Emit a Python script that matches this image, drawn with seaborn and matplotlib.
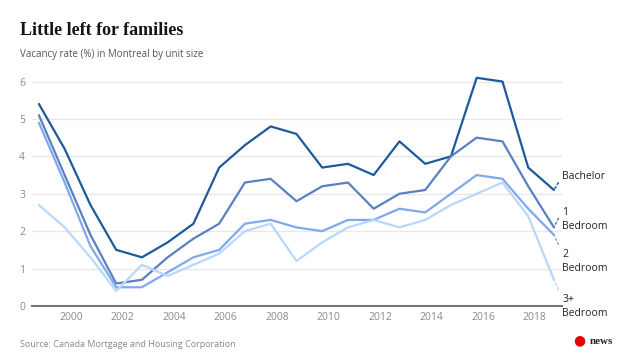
import pandas as pd
import matplotlib
matplotlib.use("Agg")
import matplotlib.pyplot as plt
import matplotlib.dates as mdates
import seaborn as sns

# Montreal vacancy rates (%) by unit size, October survey 1998-2018
years = list(range(1998, 2019))
bachelor = [5.4, 4.2, 2.7, 1.5, 1.3, 1.7, 2.2, 3.7, 4.3, 4.8, 4.6,
            3.7, 3.8, 3.5, 4.4, 3.8, 4.0, 6.1, 6.0, 3.7, 3.1]
one_bed = [5.1, 3.5, 1.9, 0.6, 0.7, 1.3, 1.8, 2.2, 3.3, 3.4, 2.8,
           3.2, 3.3, 2.6, 3.0, 3.1, 4.0, 4.5, 4.4, 3.2, 2.1]
two_bed = [4.9, 3.3, 1.6, 0.5, 0.5, 0.9, 1.3, 1.5, 2.2, 2.3, 2.1,
           2.0, 2.3, 2.3, 2.6, 2.5, 3.0, 3.5, 3.4, 2.6, 1.9]
three_bed = [2.7, 2.1, 1.3, 0.4, 1.1, 0.8, 1.1, 1.4, 2.0, 2.2, 1.2,
             1.7, 2.1, 2.3, 2.1, 2.3, 2.7, 3.0, 3.3, 2.4, 0.7]

units = ["Bachelor", "1\nBedroom", "2\nBedroom", "3+\nBedroom"]
colors = ["#1d5a9c", "#5a80c3", "#80a8ef", "#b9d7fb"]
tick_years = list(range(2000, 2019, 2))
y_ticks = [0, 1, 2, 3, 4, 5, 6]

# long table for seaborn
dates = pd.to_datetime([f"{y}-10-01" for y in years])
frames = []
for name, vals in zip(units, [bachelor, one_bed, two_bed, three_bed]):
    frames.append(pd.DataFrame({"date": dates, "rate": vals, "unit": name}))
df = pd.concat(frames, ignore_index=True)

sns.set_style("white")
plt.rcParams["font.family"] = ["Open Sans", "DejaVu Sans"]

fig = plt.figure(figsize=(6.4, 3.57), dpi=100)
ax = fig.add_axes([0.05, 0.143, 0.828, 0.66])

sns.lineplot(data=df, x="date", y="rate", hue="unit", palette=colors,
             linewidth=1.6, legend=False, ax=ax)

ax.set_ylim(0, 6.3)
ax.set_xlim(pd.Timestamp("1998-06-25"), pd.Timestamp("2019-01-22"))
ax.set_yticks(y_ticks)
ax.set_xticks(pd.to_datetime([f"{y}-01-01" for y in tick_years]))
ax.xaxis.set_major_formatter(mdates.DateFormatter("%Y"))
ax.tick_params(axis="both", length=0, labelsize=7.5, labelcolor="#8a8a8a")
ax.tick_params(axis="y", pad=5)
ax.tick_params(axis="x", pad=4)
ax.set_xlabel("")
ax.set_ylabel("")
ax.grid(axis="y", color="#e8e8e8", linewidth=1)
ax.set_axisbelow(True)
for s in ["top", "right", "left"]:
    ax.spines[s].set_visible(False)
ax.spines["bottom"].set_color("#777777")
ax.spines["bottom"].set_linewidth(1.5)

# end labels with dotted leaders
offsets = [(6, 10, 0.5), (6, 15, 0.85), (6, -10, 0.85), (6, -10, 0.85)]
for name, vals, col, (dx, dy, rp) in zip(units, [bachelor, one_bed, two_bed, three_bed],
                                        colors, offsets):
    ax.annotate(name, xy=(dates[-1], vals[-1]), xytext=(dx, dy),
                textcoords="offset points", ha="left",
                va="center" if "\n" not in name else "top",
                fontsize=7.5, color="#222222", linespacing=1.45,
                annotation_clip=False,
                arrowprops=dict(arrowstyle="-", linestyle=(0, (1.2, 1.8)), color=col,
                                lw=1.1, shrinkA=1, shrinkB=0, relpos=(0, rp)))

fig.text(0.031, 0.915, "Little left for families", fontsize=13, weight="bold",
         family=["Liberation Serif", "DejaVu Serif"], color="#151515", va="center")
fig.text(0.031, 0.846, "Vacancy rate (%) in Montreal by unit size", fontsize=7,
         color="#555555", va="center")
fig.text(0.031, 0.034, "Source: Canada Mortgage and Housing Corporation", fontsize=6.5,
         color="#888888", va="center")
fig.text(0.895, 0.044, "\u25CF", fontsize=10, color="#e60505", va="center")
fig.text(0.922, 0.044, "news", fontsize=8, weight="bold",
         family=["Liberation Serif", "DejaVu Serif"], color="#222222", va="center")

fig.savefig("out.png", dpi=100)
